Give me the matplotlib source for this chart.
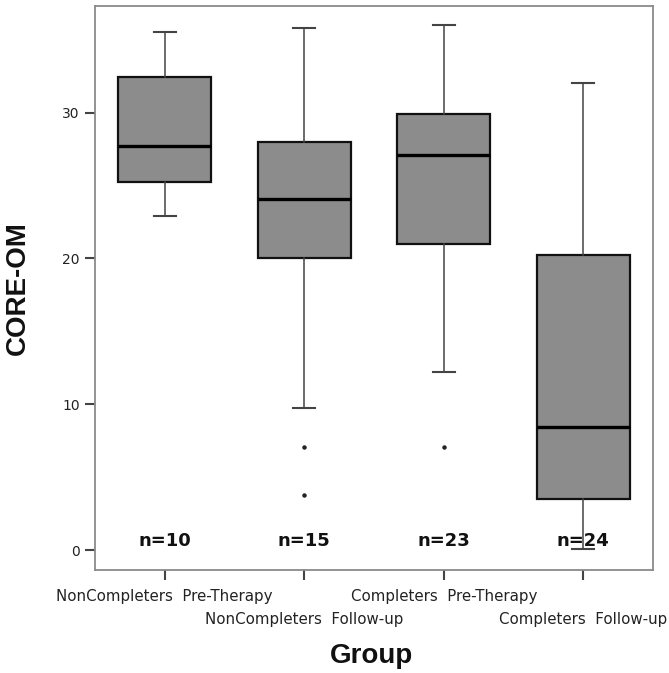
import matplotlib
matplotlib.use("Agg")
import matplotlib.pyplot as plt

groups = ["NonCompleters  Pre-Therapy", "NonCompleters  Follow-up",
          "Completers  Pre-Therapy", "Completers  Follow-up"]
n_labels = ["n=10", "n=15", "n=23", "n=24"]
whislo = [22.9, 9.75, 12.2, 0.1]
q1 = [25.25, 20.0, 21.0, 3.5]
med = [27.7, 24.1, 27.1, 8.45]
q3 = [32.45, 28.0, 29.9, 20.25]
whishi = [35.55, 35.8, 36.0, 32.05]
fliers = [[], [7.1, 3.8], [7.1], []]
yticks = [0, 10, 20, 30]

stats = []
for i in range(len(groups)):
    stats.append(dict(label=groups[i], whislo=whislo[i], q1=q1[i], med=med[i],
                      q3=q3[i], whishi=whishi[i], fliers=fliers[i]))

fig = plt.figure(figsize=(6.69, 6.73), dpi=100)
ax = fig.add_axes([0.142, 0.153, 0.834, 0.838])

positions = list(range(len(groups)))
ax.bxp(stats, positions=positions, widths=0.665, patch_artist=True,
       capwidths=0.16,
       boxprops=dict(facecolor="#8c8c8c", edgecolor="#111111", linewidth=1.6),
       medianprops=dict(color="#000000", linewidth=2.4),
       whiskerprops=dict(color="#444444", linewidth=1.1),
       capprops=dict(color="#444444", linewidth=1.5),
       flierprops=dict(marker="o", markersize=2.2, markerfacecolor="#222222",
                       markeredgecolor="#222222", linestyle="none"))

for x, t in zip(positions, n_labels):
    ax.text(x, 0.65, t, ha="center", va="center", fontsize=13,
            fontweight="bold", family="DejaVu Sans", color="#111111")

ax.set_xlim(-0.5, 3.5)
ax.set_ylim(-1.37, 37.3)
ax.set_yticks(yticks)
ax.set_yticklabels([str(v) for v in yticks], fontsize=10, family="DejaVu Sans")
ax.set_xticks(positions)
ax.set_xticklabels(groups, fontsize=10.8, family="DejaVu Sans")

ax.tick_params(axis="both", direction="out", length=7, width=1.5,
               color="#444444", labelcolor="#222222")
ax.tick_params(axis="y", pad=4)
for i, tk in enumerate(ax.xaxis.get_major_ticks()):
    tk.set_pad(6.5 if i % 2 == 0 else 23.5)

for s in ax.spines.values():
    s.set_color("#8a8a8a")
    s.set_linewidth(1.3)

fig.text(0.027, 0.572, "CORE-OM", rotation=90, ha="center", va="center",
         fontsize=20, fontweight="bold", family="Liberation Sans", color="#111111")
fig.text(0.556, 0.026, "Group", ha="center", va="center",
         fontsize=20, fontweight="bold", family="Liberation Sans", color="#111111")

fig.savefig("out.png", dpi=100, facecolor="white")
